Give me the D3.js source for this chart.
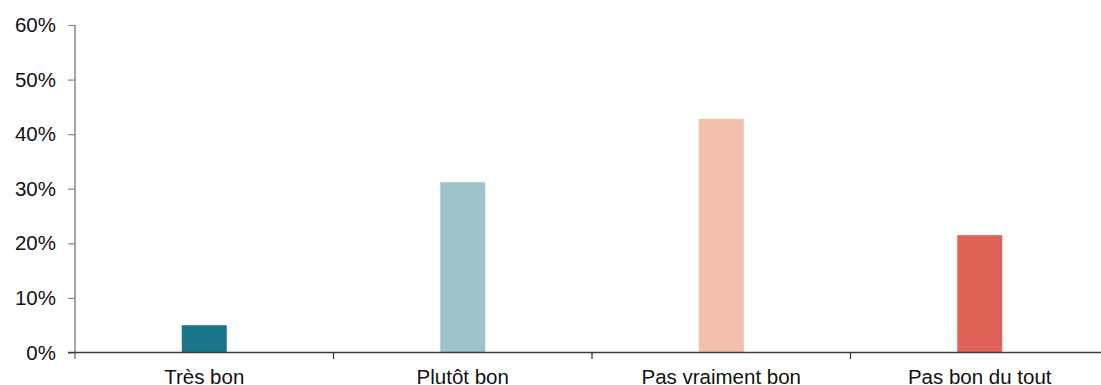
<!DOCTYPE html>
<html>
<head>
<meta charset="utf-8">
<script src="https://cdn.jsdelivr.net/npm/d3@7"></script>
<style>
  html, body { margin: 0; padding: 0; background: #fff; }
  svg { display: block; font-family: "Liberation Sans", Arial, sans-serif; }
</style>
</head>
<body>
<svg id="chart" width="1101" height="385"></svg>
<script>
// Answers to the question, share of respondents (%)
const categories = ["Très bon", "Plutôt bon", "Pas vraiment bon", "Pas bon du tout"];
const values = [5.0, 31.2, 42.8, 21.5];
const colors = ["#1a7589", "#9dc3cb", "#f2c0ad", "#e0635a"];
const yTicks = [0, 10, 20, 30, 40, 50, 60];

const svg = d3.select("#chart");

const x = d3.scaleBand()
  .domain(categories)
  .range([75, 1109])
  .paddingInner(0.826)
  .paddingOuter(0.413);

const xBands = d3.scaleBand().domain(categories).range([75, 1109]).padding(0);

const y = d3.scaleLinear().domain([0, 60]).range([352.5, 25]);

// Bars
svg.append("g")
  .selectAll("rect")
  .data(categories)
  .join("rect")
  .attr("x", d => x(d))
  .attr("width", x.bandwidth())
  .attr("y", (d, i) => y(values[i]))
  .attr("height", (d, i) => y(0) - y(values[i]))
  .attr("fill", (d, i) => colors[i]);

// Y axis
const yAxis = svg.append("g")
  .attr("transform", "translate(75,0)")
  .call(d3.axisLeft(y).tickValues(yTicks).tickFormat(d => d + "%").tickSize(7).tickPadding(12));
yAxis.select(".domain").remove();
yAxis.append("line")
  .attr("x1", 0).attr("x2", 0)
  .attr("y1", y(60)).attr("y2", y(0) + 6.5)
  .attr("stroke", "#868686").attr("stroke-width", 1.5);
yAxis.selectAll(".tick line").attr("stroke", "#868686").attr("stroke-width", 1.2);
yAxis.selectAll(".tick text")
  .attr("fill", "#111")
  .style("font-size", "20.5px");

// X axis with category boundary ticks
svg.append("line")
  .attr("x1", 68).attr("x2", 1101)
  .attr("y1", y(0)).attr("y2", y(0))
  .attr("stroke", "#3c3c3c").attr("stroke-width", 1.3);

svg.append("g")
  .selectAll("line.sep")
  .data(categories.slice(1))
  .join("line")
  .attr("class", "sep")
  .attr("x1", d => xBands(d)).attr("x2", d => xBands(d))
  .attr("y1", y(0)).attr("y2", y(0) + 6.5)
  .attr("stroke", "#3c3c3c").attr("stroke-width", 1.3);

svg.append("g")
  .selectAll("text")
  .data(categories)
  .join("text")
  .attr("x", d => xBands(d) + xBands.bandwidth() / 2)
  .attr("y", 384)
  .attr("text-anchor", "middle")
  .attr("fill", "#111")
  .style("font-size", "20.5px")
  .text(d => d);
</script>
</body>
</html>
